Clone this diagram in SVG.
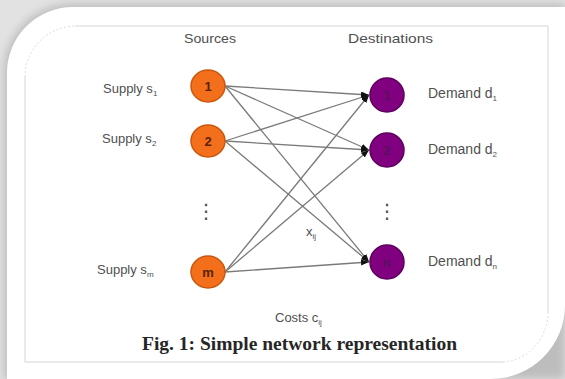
<svg xmlns="http://www.w3.org/2000/svg" width="565" height="379" viewBox="0 0 565 379">
  <style>
    .lbl { font-family: "Liberation Sans", Arial, sans-serif; font-size: 13px; fill: #505050; }
    .dem { font-size: 14px; }
    .sub { font-size: 8px; }
    .src { fill: #f36f1c; stroke: #c9560f; stroke-width: 1.5; }
    .dst { fill: #800080; stroke: #5e005e; stroke-width: 1.5; }
    .srcnum { font-family: "Liberation Sans", Arial, sans-serif; font-size: 13px; font-weight: bold; fill: #5a2208; text-anchor: middle; }
    .dstnum { font-family: "Liberation Sans", Arial, sans-serif; font-size: 13px; font-weight: bold; fill: #5a0f5f; text-anchor: middle; }
    .edge { stroke: #7a7a7a; stroke-width: 1.3; fill: none; marker-end: url(#arr); }
    .dots { font-family: "DejaVu Sans", sans-serif; font-size: 20px; fill: #505050; text-anchor: middle; }
    .cap { font-family: "Liberation Serif", "Times New Roman", serif; font-size: 19.5px; font-weight: bold; fill: #262626; }
  </style>
  <defs>
    <marker id="arr" viewBox="0 0 8 6" refX="8" refY="3" markerWidth="8" markerHeight="6" markerUnits="userSpaceOnUse" orient="auto">
      <path d="M0,0 L8,3 L0,6 Z" fill="#111"/>
    </marker>
    <filter id="blur" x="-10%" y="-10%" width="120%" height="120%">
      <feGaussianBlur stdDeviation="4"/>
    </filter>
  </defs>

  <!-- background and card -->
  <rect x="0" y="0" width="565" height="379" fill="#e2e2e2"/>
  <path d="M4,379 L4,75 A68,68 0 0 1 72,4 L565,4 L565,379 Z" fill="#bdbdbd" filter="url(#blur)"/>
  <path d="M7,379 L7,75 A66,66 0 0 1 73,7 L565,7 L565,305 A74,74 0 0 1 491,379 Z" fill="#ffffff"/>

  <!-- inner border -->
  <path d="M75,26 L548,26 L548,312 M503,362 L25,362 L25,77" fill="none" stroke="#d6d6d6" stroke-width="1"/>
  <path d="M25,77 A51,51 0 0 1 75,26" fill="none" stroke="#dcdcdc" stroke-width="1" stroke-dasharray="2,2"/>
  <path d="M548,312 A48,50 0 0 1 503,362" fill="none" stroke="#dcdcdc" stroke-width="1" stroke-dasharray="2,2"/>

  <!-- headers -->
  <text class="lbl" x="184" y="43" font-size="14" textLength="52" lengthAdjust="spacingAndGlyphs">Sources</text>
  <text class="lbl" x="348" y="43" font-size="14" textLength="85" lengthAdjust="spacingAndGlyphs">Destinations</text>

  <!-- connectors -->
  <g id="connectors">
    <line class="edge" x1="225" y1="86" x2="369" y2="95"/>
    <line class="edge" x1="225" y1="86" x2="369" y2="150"/>
    <line class="edge" x1="225" y1="86" x2="369" y2="262"/>
    <line class="edge" x1="225" y1="141" x2="369" y2="95"/>
    <line class="edge" x1="225" y1="141" x2="369" y2="150"/>
    <line class="edge" x1="225" y1="141" x2="369" y2="262"/>
    <line class="edge" x1="225" y1="272" x2="369" y2="95"/>
    <line class="edge" x1="225" y1="272" x2="369" y2="150"/>
    <line class="edge" x1="225" y1="272" x2="369" y2="262"/>
  </g>

  <!-- source nodes -->
  <g id="source-1">
    <ellipse class="src" cx="208" cy="86" rx="17" ry="16"/>
    <text class="srcnum" x="208" y="91">1</text>
    <text class="lbl" x="103" y="93">Supply s<tspan class="sub" dy="3">1</tspan></text>
  </g>
  <g id="source-2">
    <ellipse class="src" cx="208" cy="141" rx="17" ry="16"/>
    <text class="srcnum" x="208" y="146">2</text>
    <text class="lbl" x="102" y="143">Supply s<tspan class="sub" dy="3">2</tspan></text>
  </g>
  <g id="source-m">
    <ellipse class="src" cx="208" cy="272" rx="17" ry="16"/>
    <text class="srcnum" x="208" y="277">m</text>
    <text class="lbl" x="97" y="274">Supply s<tspan class="sub" dy="3">m</tspan></text>
  </g>

  <!-- destination nodes -->
  <g id="dest-1">
    <circle class="dst" cx="387" cy="95" r="17"/>
    <text class="dstnum" x="387" y="100">1</text>
    <text class="lbl dem" x="428" y="98">Demand d<tspan class="sub" dy="3">1</tspan></text>
  </g>
  <g id="dest-2">
    <circle class="dst" cx="387" cy="150" r="17"/>
    <text class="dstnum" x="387" y="155">2</text>
    <text class="lbl dem" x="428" y="154">Demand d<tspan class="sub" dy="3">2</tspan></text>
  </g>
  <g id="dest-n">
    <circle class="dst" cx="387" cy="262" r="17"/>
    <text class="dstnum" x="387" y="267">n</text>
    <text class="lbl dem" x="428" y="266">Demand d<tspan class="sub" dy="3">n</tspan></text>
  </g>

  <!-- ellipses -->
  <text class="dots" x="206" y="218">⋮</text>
  <text class="dots" x="387" y="218">⋮</text>

  <!-- labels -->
  <text class="lbl" x="306" y="236">x<tspan class="sub" dy="3">ij</tspan></text>
  <text class="lbl" x="275" y="322">Costs c<tspan class="sub" dy="3">ij</tspan></text>
  <text class="cap" x="142" y="350">Fig. 1: Simple network representation</text>
</svg>
